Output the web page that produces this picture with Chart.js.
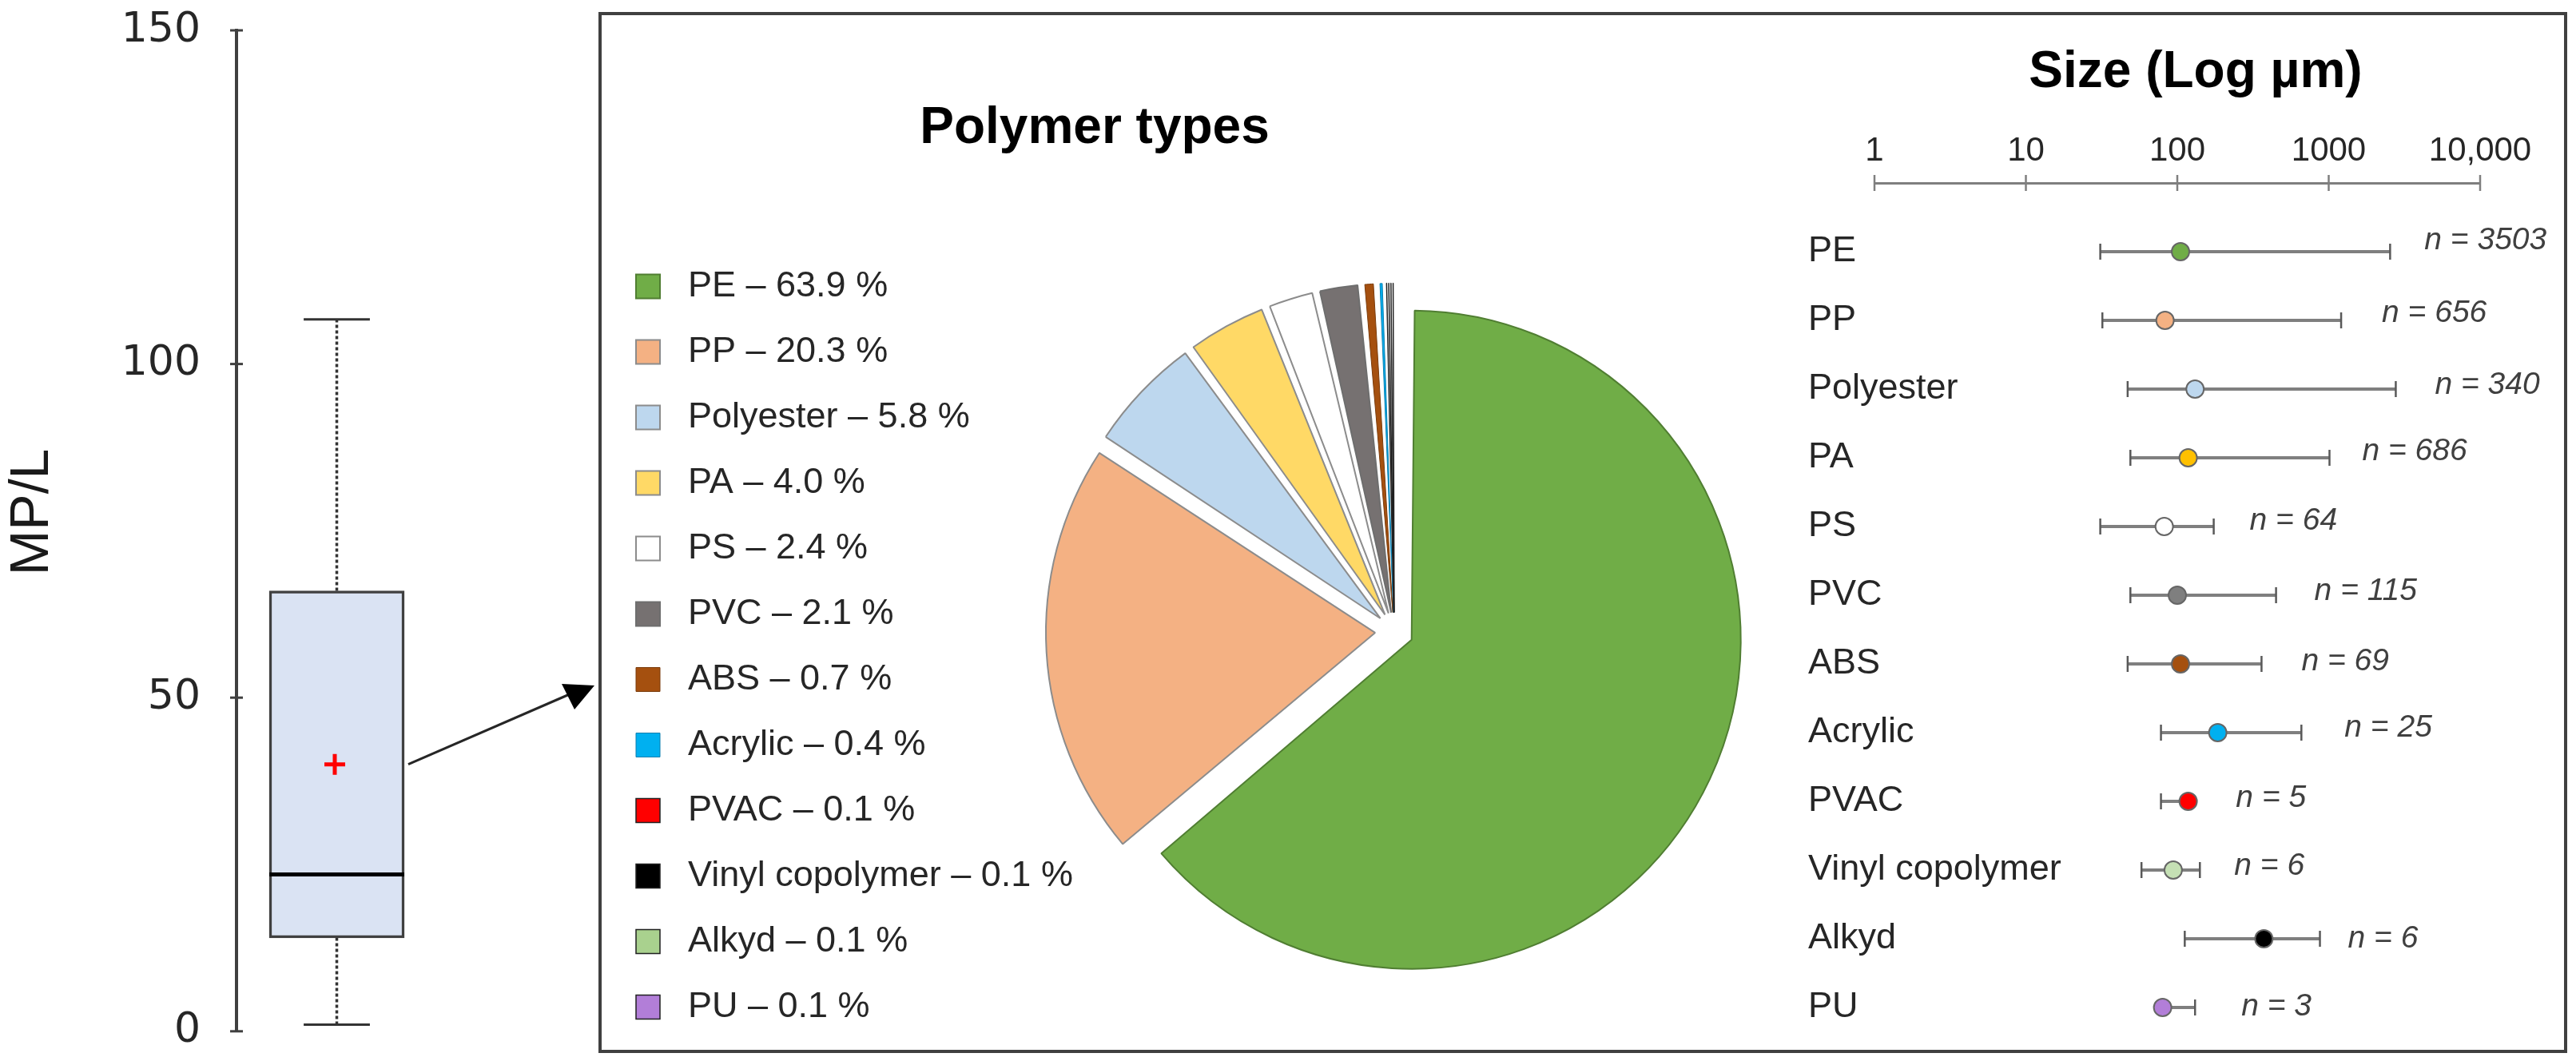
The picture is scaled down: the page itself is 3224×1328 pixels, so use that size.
<!DOCTYPE html>
<html lang="en">
<head>
    <meta charset="UTF-8">
    <title>Microplastics: MP/L, polymer types and size</title>
    <script src="https://cdn.jsdelivr.net/npm/chart.js"></script>
    <style>
        html, body { margin: 0; padding: 0; background: #fff; overflow: hidden; }
        #page { position: relative; width: 3224px; height: 1328px; }
        #page canvas { position: absolute; left: 0; top: 0; }
        #frame { position: absolute; left: 749px; top: 15px; width: 2456px; height: 1295px; border: 4px solid #404040; }
    </style>
</head>
<body>
    <div id="page">
        <div id="frame"></div>
        <canvas id="boxChart" width="3224" height="1328"></canvas>
        <canvas id="pieChart" width="3224" height="1328"></canvas>
        <canvas id="sizeChart" width="3224" height="1328"></canvas>
    </div>

    <script>
        // Box plot values (MP/L)
        const mpTicks = [0, 50, 100, 150];
        const mpWhiskerLow = 1;
        const mpQ1 = 14;
        const mpMedian = 23.5;
        const mpMean = 40;
        const mpQ3 = 66;
        const mpWhiskerHigh = 106.7;

        // Polymer shares (%)
        const polymers = ['PE', 'PP', 'Polyester', 'PA', 'PS', 'PVC', 'ABS', 'Acrylic', 'PVAC', 'Vinyl copolymer', 'Alkyd', 'PU'];
        const shares = [63.9, 20.3, 5.8, 4.0, 2.4, 2.1, 0.7, 0.4, 0.1, 0.1, 0.1, 0.1];

        // Size ranges (um, log axis)
        const sizeTicks = [1, 10, 100, 1000, 10000];
        const sizeTickLabels = ['1', '10', '100', '1000', '10,000'];
        const sizeLow = [31, 32, 47, 49, 31, 49, 47, 78, 78, 58, 112, 75];
        const sizeMedian = [105, 83, 131, 118, 82, 100, 105, 185, 118, 94, 373, 80];
        const sizeHigh = [2544, 1208, 2773, 1012, 174, 449, 360, 660, 125, 141, 875, 131];
        const counts = [3503, 656, 340, 686, 64, 115, 69, 25, 5, 6, 6, 3];

        // Colours
        const pieColors = ['#70AD47', '#F4B183', '#BDD7EE', '#FFD966', '#FFFFFF', '#767171', '#A5500F', '#00B0F0', '#FF0000', '#000000', '#A9D18E', '#B27ED8'];
        const pieBorders = ['#507E32', '#8C8C8C', '#8C8C8C', '#8C8C8C', '#8C8C8C', '#6E6E6E', '#7A3B0B', '#0A7FB0', '#202020', '#202020', '#202020', '#202020'];
        const pieBorderWidths = [2, 2, 2, 2, 2, 2, 1, 1, 1.5, 1.5, 1.5, 1.5];
        const markerColors = ['#70AD47', '#F4B183', '#BDD7EE', '#FFC000', '#FFFFFF', '#7F7F7F', '#A5500F', '#00B0F0', '#FF0000', '#C5E0B4', '#000000', '#B27ED8'];

        // Nudges for the n = labels, they are not evenly placed in the figure
        const nGap = [43, 51, 49, 41, 45, 48, 50, 54, 55, 43, 35, 58];
        const nRise = [14, 9, 5, 8, 7, 5, 3, 6, 4, 5, 0, 1];

        const FONT = '"Liberation Sans", Arial, sans-serif';
        const W = 3224, H = 1328;

        function drawText(ctx, text, x, y, font, color, rotate) {
            ctx.save();
            ctx.translate(x, y);
            if (rotate) ctx.rotate(rotate);
            ctx.font = font;
            ctx.fillStyle = color;
            ctx.textAlign = 'center';
            ctx.textBaseline = 'middle';
            ctx.fillText(text, 0, 0);
            ctx.restore();
        }

        Chart.defaults.animation = false;
        Chart.defaults.plugins.tooltip.enabled = false;
        Chart.defaults.events = [];

        // ---- Box plot ----
        const boxHalf = 0.673, capHalf = 0.33;

        const boxExtras = {
            id: 'boxExtras',
            afterDraw(chart) {
                const ctx = chart.ctx;
                drawText(ctx, 'MP/L', 41, 641, '68px ' + FONT, '#1a1a1a', -Math.PI / 2);
                // arrow to the framed panel
                const startX = chart.scales.x.getPixelForValue(boxHalf) + 5;
                const startY = chart.scales.y.getPixelForValue(mpMean);
                ctx.save();
                ctx.strokeStyle = '#262626';
                ctx.fillStyle = '#000';
                ctx.lineWidth = 3;
                ctx.beginPath();
                ctx.moveTo(startX, startY);
                ctx.lineTo(715, 868);
                ctx.stroke();
                ctx.beginPath();
                ctx.moveTo(744, 858);
                ctx.lineTo(703, 856);
                ctx.lineTo(719, 888);
                ctx.closePath();
                ctx.fill();
                ctx.restore();
            }
        };

        function whisker(from, to) {
            return {
                type: 'scatter', showLine: true, order: 3,
                data: [{ x: 0, y: from }, { x: 0, y: to }],
                borderColor: '#333', borderWidth: 3.5, borderDash: [4, 3], pointRadius: 0
            };
        }
        function hLine(y, half, width, color) {
            return {
                type: 'scatter', showLine: true, order: 1,
                data: [{ x: -half, y: y }, { x: half, y: y }],
                borderColor: color, borderWidth: width, pointRadius: 0
            };
        }

        new Chart(document.getElementById('boxChart'), {
            type: 'bar',
            data: {
                datasets: [
                    { type: 'scatter', order: 0, data: [{ x: -0.02, y: mpMean }], pointStyle: 'cross', pointRadius: 13, pointBorderWidth: 5, pointBorderColor: '#FF0000', borderColor: '#FF0000', backgroundColor: '#FF0000' },
                    hLine(mpMedian, boxHalf, 5, '#000'),
                    hLine(mpWhiskerHigh, capHalf, 3, '#333'),
                    hLine(mpWhiskerLow, capHalf, 3, '#333'),
                    { type: 'bar', order: 2, data: [{ x: 0, y: [mpQ1, mpQ3] }], barThickness: 169, backgroundColor: '#DAE3F3', borderColor: '#404040', borderWidth: 3.5, borderSkipped: false },
                    whisker(mpQ3, mpWhiskerHigh),
                    whisker(mpWhiskerLow, mpQ1),
                    // right half of the axis ticks
                    { type: 'scatter', order: 4, clip: false, data: mpTicks.map(v => ({ x: -1, y: v })), pointStyle: 'line', pointRadius: 8, pointBorderWidth: 3, pointBorderColor: '#404040' }
                ]
            },
            options: {
                responsive: false,
                layout: { padding: { left: 0, top: 38, right: W - 547, bottom: H - 1292 } },
                plugins: { legend: { display: false } },
                scales: {
                    x: { type: 'linear', min: -1, max: 1, offset: false, display: false },
                    y: {
                        type: 'linear', min: 0, max: 150,
                        afterFit: s => { s.width = 296; },
                        afterBuildTicks: s => { s.ticks = mpTicks.map(v => ({ value: v })); },
                        border: { color: '#404040', width: 4 },
                        // long see-through tick keeps the labels away from the axis,
                        // ticks.padding would also shrink the plot height
                        grid: { drawOnChartArea: false, tickLength: 39, tickColor: 'transparent' },
                        ticks: { padding: 6, color: '#262626', font: { family: 'DejaVu Sans', size: 52 } }
                    }
                }
            },
            plugins: [boxExtras]
        });

        // ---- Pie ----
        const pieRadius = 412;
        const explodePx = 24;
        const legendLabels = polymers.map((p, i) => ` ${p} – ${shares[i].toFixed(1)} %`);

        const pieExtras = {
            id: 'pieExtras',
            // the arc element also grows by offset/4*fix when it is exploded, take that back
            afterDatasetUpdate(chart) {
                chart.getDatasetMeta(0).data.forEach(arc => {
                    const fix = 1 - Math.sin(Math.min(Math.PI, arc.circumference));
                    arc.outerRadius = pieRadius - explodePx * fix;
                });
            },
            afterDraw(chart) {
                drawText(chart.ctx, 'Polymer types', 1370, 161, 'bold 64px ' + FONT, '#000');
            }
        };

        new Chart(document.getElementById('pieChart'), {
            type: 'pie',
            data: {
                labels: legendLabels,
                datasets: [{
                    data: shares,
                    backgroundColor: pieColors,
                    borderColor: pieBorders,
                    borderWidth: pieBorderWidths,
                    offset: explodePx * 4,
                    radius: pieRadius
                }]
            },
            options: {
                responsive: false,
                layout: { padding: { left: 759, top: 261, right: 1087, bottom: 8 } },
                plugins: {
                    legend: {
                        position: 'left',
                        align: 'end',
                        // whole numbers here: the legend wraps to a new column on rounding errors
                        labels: { boxWidth: 30, boxHeight: 30, padding: 37, color: '#262626', font: { family: 'Liberation Sans', size: 45 } }
                    }
                }
            },
            plugins: [pieExtras]
        });

        // ---- Size ranges ----
        const sizeExtras = {
            id: 'sizeExtras',
            afterDraw(chart) {
                const ctx = chart.ctx;
                drawText(ctx, 'Size (Log µm)', 2748, 91, 'bold 64px ' + FONT, '#000');
                counts.forEach((n, i) => {
                    ctx.save();
                    ctx.font = 'italic 39px ' + FONT;
                    ctx.fillStyle = '#404040';
                    ctx.textAlign = 'left';
                    ctx.textBaseline = 'middle';
                    ctx.fillText('n = ' + n, chart.scales.x.getPixelForValue(sizeHigh[i]) + nGap[i], chart.scales.y.getPixelForValue(i) - nRise[i]);
                    ctx.restore();
                });
            }
        };

        new Chart(document.getElementById('sizeChart'), {
            type: 'scatter',
            data: {
                datasets: [
                    {
                        clip: false,
                        data: polymers.map((p, i) => ({ x: sizeMedian[i], y: i })),
                        pointRadius: 11,
                        pointBorderWidth: 2,
                        pointBackgroundColor: markerColors,
                        pointBorderColor: '#666'
                    },
                    ...polymers.map((p, i) => ({
                        clip: false,
                        showLine: true,
                        data: [{ x: sizeLow[i], y: i }, { x: sizeHigh[i], y: i }],
                        borderColor: '#7F7F7F',
                        borderWidth: 4,
                        pointStyle: 'line',
                        pointRotation: 90,
                        pointRadius: 10,
                        pointBorderWidth: 2.5,
                        pointBorderColor: '#595959'
                    })),
                    // ticks on the size axis
                    {
                        clip: false,
                        data: sizeTicks.map(v => ({ x: v, y: -1 })),
                        pointStyle: 'line',
                        pointRotation: 90,
                        pointRadius: 10,
                        pointBorderWidth: 2.5,
                        pointBorderColor: '#7F7F7F'
                    }
                ]
            },
            options: {
                responsive: false,
                layout: { padding: { left: 2263, top: 0, right: W - 3104, bottom: H - 1261 } },
                plugins: { legend: { display: false } },
                scales: {
                    x: {
                        type: 'logarithmic', position: 'top', min: 1, max: 10000,
                        afterFit: s => { s.height = 229; },
                        afterBuildTicks: s => { s.ticks = sizeTicks.map(v => ({ value: v })); },
                        border: { color: '#7F7F7F', width: 3 },
                        grid: { drawOnChartArea: false, drawTicks: false },
                        ticks: {
                            padding: 14, maxRotation: 0, autoSkip: false, color: '#262626',
                            font: { family: 'Liberation Sans', size: 42 },
                            callback: v => sizeTickLabels[sizeTicks.indexOf(v)]
                        }
                    },
                    y: {
                        type: 'linear', reverse: true, min: -1, max: 11,
                        afterFit: s => { s.width = 83; },
                        grid: { display: false },
                        border: { display: false },
                        // mirror so the long names are not cut at the axis
                        ticks: {
                            stepSize: 1, autoSkip: false, mirror: true, padding: -83, color: '#262626',
                            font: { family: 'Liberation Sans', size: 45 },
                            callback: v => polymers[v] || ''
                        }
                    }
                }
            },
            plugins: [sizeExtras]
        });
    </script>
</body>
</html>
